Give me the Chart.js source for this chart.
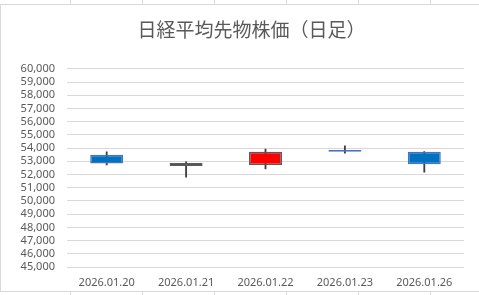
<!DOCTYPE html>
<html lang="ja">
<head>
  <meta charset="UTF-8" />
  <title>日経平均先物株価（日足）</title>
  <script src="https://cdn.jsdelivr.net/npm/chart.js"></script>
  <style>
    html, body { margin: 0; padding: 0; background: #fff; overflow: hidden; }
    body { width: 479px; height: 295px; position: relative; }
    /* spreadsheet cell lines behind the chart */
    .cells {
      position: absolute; left: 0; top: 0; width: 479px; height: 295px;
      background:
        repeating-linear-gradient(to right, transparent 0 70px, #dadada 70px 71px, transparent 71px 72px);
    }
    .frame {
      position: absolute; left: 0; top: 4px; width: 503px; height: 288px;
      background: #fff; border: 1px solid #d9d9d9; box-sizing: border-box;
    }
  </style>
</head>
<body>
  <div class="cells"></div>
  <div class="frame">
    <canvas id="candles" width="501" height="286"></canvas>
  </div>

  <script>
    // daily candles (yen)
    const dates  = ["2026.01.20", "2026.01.21", "2026.01.22", "2026.01.23", "2026.01.26"];
    const opens  = [53500, 52650, 52720, 53850, 53720];
    const closes = [52830, 52880, 53720, 53720, 52770];
    const highs  = [53720, 52950, 53920, 54170, 53730];
    const lows   = [52730, 51800, 52420, 53620, 52170];

    const yMin = 45000, yMax = 60000, yStep = 1000;

    const upFill = "#ff0000", upEdge = "#595959";
    const downFill = "#0070c0", downEdge = "#4472c4";

    const isUp = dates.map((d, i) => closes[i] >= opens[i]);
    const bodies = dates.map((d, i) => [opens[i], closes[i]]);
    const wicks = dates.map((d, i) => [lows[i], highs[i]]);

    new Chart(document.getElementById("candles"), {
      type: "bar",
      data: {
        labels: dates,
        datasets: [
          {
            label: "body",
            data: bodies,
            backgroundColor: isUp.map(u => u ? upFill : downFill),
            borderColor: isUp.map(u => u ? upEdge : downEdge),
            borderWidth: 1.5,
            borderSkipped: false,
            grouped: false,
            categoryPercentage: 1,
            barPercentage: 0.415
          },
          {
            label: "wick",
            data: wicks,
            backgroundColor: "#404040",
            borderWidth: 0,
            grouped: false,
            barThickness: 1.2
          }
        ]
      },
      options: {
        responsive: false,
        animation: false,
        layout: { padding: 0 },
        plugins: {
          legend: { display: false },
          tooltip: { enabled: false },
          title: {
            display: true,
            text: "日経平均先物株価（日足）",
            color: "#595959",
            font: { family: "'Noto Sans CJK JP'", size: 19, weight: "normal" },
            padding: { top: 13, bottom: 28 }
          }
        },
        scales: {
          x: {
            afterFit: s => { s.height = 24; },
            grid: { display: false, drawTicks: false },
            border: { display: false },
            ticks: {
              color: "#595959",
              font: { family: "'Noto Sans'", size: 11 },
              padding: 9
            }
          },
          y: {
            min: yMin,
            max: yMax,
            afterFit: s => { s.width = 66; },
            grid: { color: "#d9d9d9", lineWidth: 1, drawTicks: false },
            border: { display: false },
            ticks: {
              stepSize: yStep,
              autoSkip: false,
              color: "#595959",
              font: { family: "'Noto Sans'", size: 11 },
              padding: 12,
              callback: v => v.toLocaleString("en-US")
            }
          },
          // empty right-hand axis, only reserves the margin right of the plot
          yRight: {
            position: "right",
            min: yMin,
            max: yMax,
            afterFit: s => { s.width = 38; },
            grid: { display: false, drawTicks: false },
            border: { display: false },
            ticks: { display: false }
          }
        }
      }
    });
  </script>
</body>
</html>
